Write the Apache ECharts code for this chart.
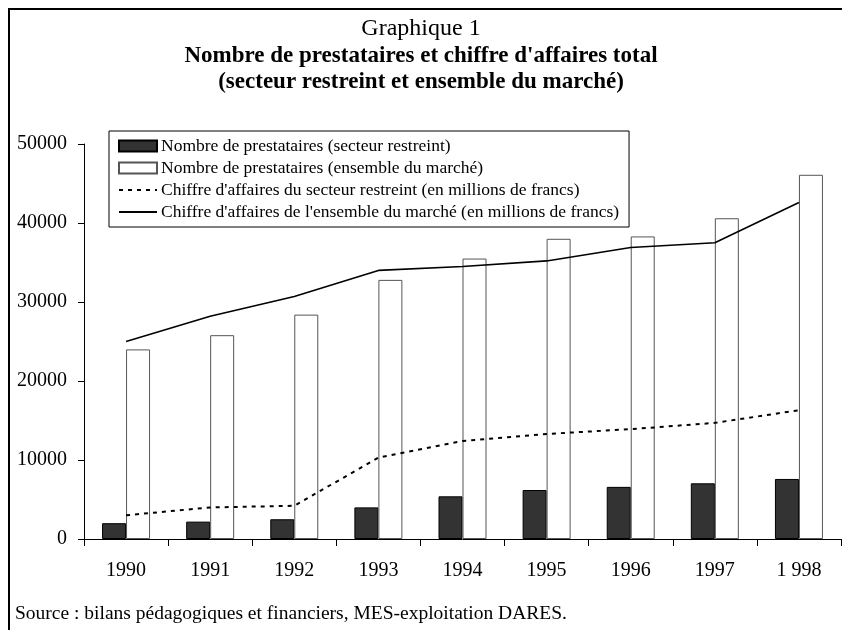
<!DOCTYPE html>
<html>
<head>
<meta charset="utf-8">
<script src="https://cdn.jsdelivr.net/npm/echarts@6/dist/echarts.min.js"></script>
<style>
  html, body { margin: 0; padding: 0; background: #fff; }
  #chart { width: 842px; height: 630px; }
</style>
</head>
<body>
<div id="chart"></div>
<script>
// Years on the category axis
const years = ['1990', '1991', '1992', '1993', '1994', '1995', '1996', '1997', '1 998'];

// Number of providers (bars)
const prestRestreint = [2000, 2200, 2500, 4000, 5400, 6200, 6600, 7050, 7600];
const prestEnsemble = [24000, 25800, 28400, 32800, 35500, 38000, 38300, 40600, 46100];

// Turnover, millions of francs (lines)
const caRestreint = [3000, 4000, 4200, 10300, 12400, 13300, 13900, 14700, 16300];
const caEnsemble = [25000, 28200, 30700, 34000, 34500, 35200, 36900, 37500, 42600];

// Legend labels
const seriesNames = [
  'Nombre de prestataires (secteur restreint)',
  'Nombre de prestataires (ensemble du marché)',
  "Chiffre d'affaires du secteur restreint (en millions de francs)",
  "Chiffre d'affaires de l'ensemble du marché (en millions de francs)"
];

const FONT = '"Liberation Serif", "Times New Roman", serif';

const chart = echarts.init(document.getElementById('chart'), null, { renderer: 'canvas' });

// line legend entries: keep the stroke, hide the marker dot
const noMarker = { color: 'rgba(0,0,0,0)', borderWidth: 0, opacity: 0 };

chart.setOption({
  animation: false,
  backgroundColor: '#ffffff',
  textStyle: { fontFamily: FONT, color: '#000' },
  graphic: [
    {
      type: 'rect',
      shape: { x: 9, y: 9, width: 900, height: 700 },
      style: { fill: 'none', stroke: '#000', lineWidth: 2 },
      silent: true
    },
    {
      type: 'text',
      left: 'center',
      top: 17,
      style: { text: 'Graphique 1', font: '24px ' + FONT, fill: '#000' }
    },
    {
      type: 'text',
      left: 'center',
      top: 45,
      style: { text: "Nombre de prestataires et chiffre d'affaires total", font: 'bold 23px ' + FONT, fill: '#000' }
    },
    {
      type: 'text',
      left: 'center',
      top: 71,
      style: { text: '(secteur restreint et ensemble du marché)', font: 'bold 23px ' + FONT, fill: '#000' }
    },
    {
      type: 'text',
      left: 15,
      top: 604,
      style: { text: 'Source : bilans pédagogiques et financiers, MES-exploitation DARES.', font: '19.5px ' + FONT, fill: '#000' }
    }
  ],
  legend: {
    orient: 'vertical',
    left: 109,
    top: 131,
    padding: [6, 10, 6, 9],
    itemGap: 4,
    itemWidth: 38,
    itemHeight: 11,
    borderColor: '#000',
    borderWidth: 1,
    backgroundColor: '#fff',
    textStyle: { fontFamily: FONT, fontSize: 17.5, color: '#000', padding: [0, 0, 0, -1] },
    data: [
      { name: seriesNames[0], icon: 'rect' },
      { name: seriesNames[1], icon: 'rect' },
      { name: seriesNames[2], itemStyle: noMarker },
      { name: seriesNames[3], itemStyle: noMarker }
    ]
  },
  grid: { left: 84, right: 1, top: 144, bottom: 91, containLabel: false },
  xAxis: {
    type: 'category',
    data: years,
    axisLine: { lineStyle: { color: '#000', width: 1 } },
    axisTick: { show: true, length: 7, lineStyle: { color: '#000' } },
    axisLabel: { fontFamily: FONT, fontSize: 20, color: '#000', margin: 22 }
  },
  yAxis: {
    type: 'value',
    min: 0,
    max: 50000,
    interval: 10000,
    axisLine: { show: true, lineStyle: { color: '#000', width: 1 } },
    axisTick: { show: true, length: 6, lineStyle: { color: '#000' } },
    splitLine: { show: false },
    axisLabel: {
      fontFamily: FONT, fontSize: 20, color: '#000', margin: 17,
      formatter: (v) => String(v)
    }
  },
  series: [
    {
      name: seriesNames[0],
      type: 'bar',
      data: prestRestreint,
      barWidth: 24,
      barGap: '0%',
      itemStyle: { color: '#333333', borderColor: '#000', borderWidth: 1 }
    },
    {
      name: seriesNames[1],
      type: 'bar',
      data: prestEnsemble,
      barWidth: 24,
      barGap: '0%',
      itemStyle: { color: '#ffffff', borderColor: '#555', borderWidth: 1 }
    },
    {
      name: seriesNames[2],
      type: 'line',
      data: caRestreint,
      symbol: 'none',
      lineStyle: { color: '#000', width: 2, type: [4, 5] },
      itemStyle: { color: '#000' }
    },
    {
      name: seriesNames[3],
      type: 'line',
      data: caEnsemble,
      symbol: 'none',
      lineStyle: { color: '#000', width: 1.6, type: 'solid' },
      itemStyle: { color: '#000' }
    }
  ]
});
</script>
</body>
</html>
